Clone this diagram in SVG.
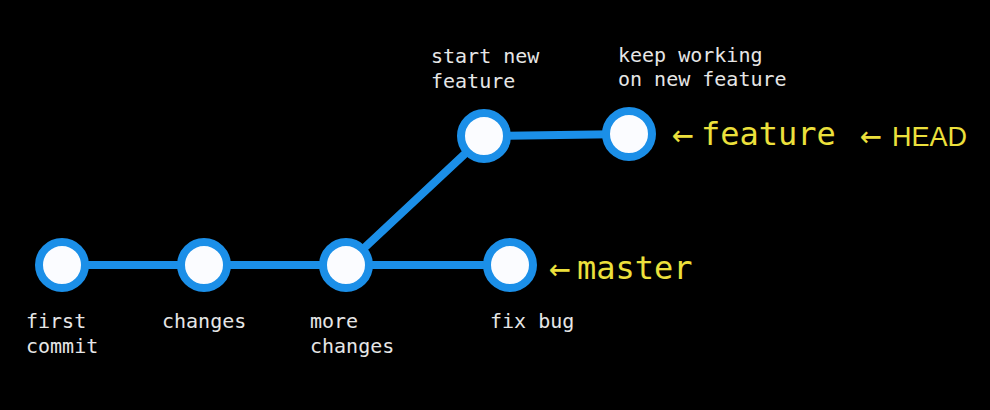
<svg xmlns="http://www.w3.org/2000/svg" width="990" height="410" viewBox="0 0 990 410">
  <style>
    .edge { stroke: #1b8fe8; stroke-width: 8; fill: none; stroke-linecap: round; }
    .commit { fill: #fbfcff; stroke: #1b8fe8; stroke-width: 8; }
    .label { font-family: "DejaVu Sans Mono", "Liberation Mono", monospace; font-size: 20px; fill: #e6e6e6; }
    .ref { font-family: "DejaVu Sans Mono", "Liberation Mono", monospace; font-size: 32px; fill: #ece03c; }
    .arrow { font-family: "DejaVu Sans Mono", "Liberation Mono", monospace; font-size: 36px; fill: #ece03c; }
    .ref-sans { font-family: "Liberation Sans", "Noto Sans", sans-serif; font-size: 28px; fill: #ece03c; }
  </style>
  <rect width="990" height="410" fill="#000"/>

  <!-- branch lines -->
  <g id="connectors">
    <line class="edge" x1="62" y1="265" x2="510" y2="265"/>
    <line class="edge" x1="346" y1="265" x2="484" y2="136"/>
    <line class="edge" x1="484" y1="136" x2="629" y2="134"/>
  </g>

  <!-- commits on master -->
  <g id="first-commit">
    <circle class="commit" cx="62" cy="265" r="23"/>
    <text class="label" x="26" y="328">first</text>
    <text class="label" x="26" y="353">commit</text>
  </g>
  <g id="changes">
    <circle class="commit" cx="204" cy="265" r="23"/>
    <text class="label" x="162" y="328">changes</text>
  </g>
  <g id="more-changes">
    <circle class="commit" cx="346" cy="265" r="23"/>
    <text class="label" x="310" y="328">more</text>
    <text class="label" x="310" y="353">changes</text>
  </g>
  <g id="fix-bug">
    <circle class="commit" cx="510" cy="265" r="23"/>
    <text class="label" x="490" y="328">fix bug</text>
  </g>

  <!-- commits on feature branch -->
  <g id="start-new-feature">
    <circle class="commit" cx="484" cy="136" r="23"/>
    <text class="label" x="431" y="63">start new</text>
    <text class="label" x="431" y="88">feature</text>
  </g>
  <g id="keep-working">
    <circle class="commit" cx="629" cy="134" r="23"/>
    <text class="label" x="618" y="62">keep working</text>
    <text class="label" x="618" y="86">on new feature</text>
  </g>

  <!-- branch pointers -->
  <g id="ref-feature">
    <text class="arrow" x="672" y="146">←</text>
    <text class="ref" x="701" y="145">feature</text>
  </g>
  <g id="ref-head">
    <text class="arrow" x="860" y="147">←</text>
    <text class="ref-sans" x="892" y="146" textLength="75" lengthAdjust="spacingAndGlyphs">HEAD</text>
  </g>
  <g id="ref-master">
    <text class="arrow" x="549" y="280">←</text>
    <text class="ref" x="577" y="279">master</text>
  </g>
</svg>
